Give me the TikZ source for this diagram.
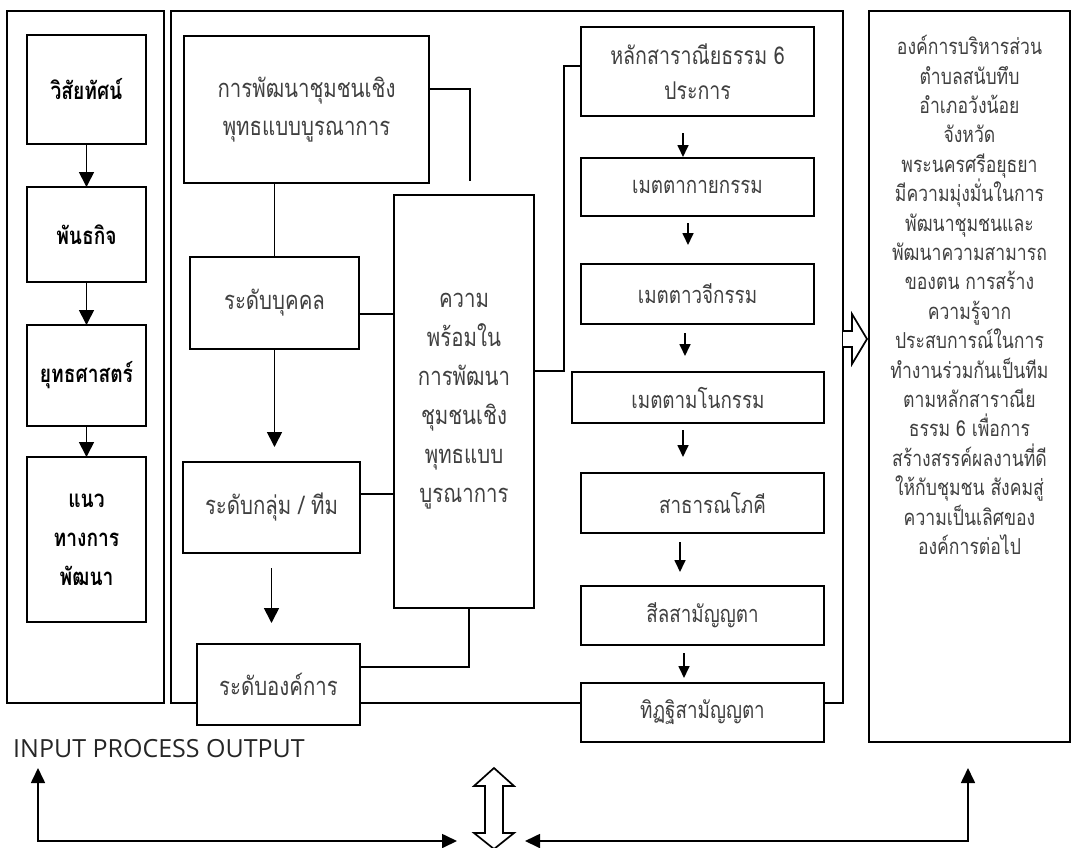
\documentclass[tikz,border=0pt]{standalone}
\usepackage{fontspec}
\newfontfamily\thai[Script=Thai, FakeStretch=0.8]{Loma}
\newfontfamily\latinsans{Open Sans}
\usetikzlibrary{arrows.meta,calc}
\begin{document}
\begin{tikzpicture}[x=1pt,y=-1pt,
  frame/.style={draw, line width=1.7pt, inner sep=0pt, outer sep=0pt},
  box/.style={draw, fill=white, line width=1.7pt, align=center, inner sep=0pt, outer sep=0pt,
    text=black!75, font=\thai\fontsize{25.5}{36}\selectfont},
  cbox/.style={box, font=\thai\fontsize{23.5}{35}\selectfont},
  lbox/.style={box, text=black, font=\thai\bfseries\fontsize{24}{39}\selectfont},
  link/.style={line width=1.7pt},
  arr/.style={line width=1.7pt, -{Triangle[length=15pt,width=15pt]}},
  sarr/.style={line width=1.7pt, -{Triangle[length=12pt,width=11pt]}},
  bothtip/.style={line width=1.7pt, {Triangle[length=15pt,width=14pt]}-{Triangle[length=15pt,width=14pt]}}
]
\useasboundingbox (0,0) rectangle (1077,847);

% panels
\node[frame, minimum width=157, minimum height=692] (inp) at (85.5,357) {};
\node[frame, minimum width=672, minimum height=692] (proc) at (507,357) {};
\node[frame, minimum width=201, minimum height=731] (outp) at (969.5,376.5) {};

% input column
\node[lbox, minimum width=119, minimum height=109] (vis) at (86.5,89.5) {วิสัยทัศน์};
\node[lbox, minimum width=119, minimum height=95] (mis) at (86.5,234.5) {พันธกิจ};
\node[lbox, minimum width=119, minimum height=101] (str) at (86.5,375.5) {ยุทธศาสตร์};
\node[lbox, minimum width=119, minimum height=165] (gui) at (86.5,539.5) {แนว\\ทางการ\\พัฒนา};
\draw[arr] (vis) -- (mis);
\draw[arr] (mis) -- (str);
\draw[arr] (str) -- (gui);

% process, left part
\node[box, minimum width=245, minimum height=147, font=\thai\fontsize{25.5}{38}\selectfont] (integ) at (306.5,109.5) {การพัฒนาชุมชนเชิง\\พุทธแบบบูรณาการ};
\node[box, minimum width=169, minimum height=92] (indiv) at (274.5,303) {ระดับบุคคล};
\node[box, minimum width=177, minimum height=91] (group) at (271.5,507.5) {ระดับกลุ่ม / ทีม};
\node[box, minimum width=163, minimum height=81] (org) at (278.5,684.5) {ระดับองค์การ};
\node[box, minimum width=140, minimum height=413, font=\thai\fontsize{25.5}{39}\selectfont] (ready) at (464,401.5)
  {ความ\\พร้อมใน\\การพัฒนา\\ชุมชนเชิง\\พุทธแบบ\\บูรณาการ};

\coordinate (c1) at (470,181);
\draw[link] ([yshift=20.5pt]integ.east) -| (c1);
\draw[link] (indiv.north) -- (indiv.north |- integ.south);
\path ([yshift=-11pt]indiv.east) coordinate (p1);
\draw[link] (p1) -- (p1 -| ready.west);
\path ([yshift=13.5pt]group.east) coordinate (p2);
\draw[link] (p2) -- (p2 -| ready.west);
\path ([yshift=17.5pt]org.east) coordinate (p3);
\path ([xshift=5pt]ready.south) coordinate (p4);
\draw[link] (p3) -| (p4);
\draw[arr] (indiv.south) -- ++(0,98);
\draw[arr] ($(group.south)+(0,15)$) -- ++(0,55);

% process, right part
\node[cbox, minimum width=233, minimum height=89, font=\thai\fontsize{24.5}{35}\selectfont] (princ) at (697.5,71.5) {หลักสาราณียธรรม 6\\ประการ};
\node[cbox, minimum width=233, minimum height=58] (body) at (697.5,187) {เมตตากายกรรม};
\node[cbox, minimum width=233, minimum height=60] (speech) at (697.5,294) {เมตตาวจีกรรม};
\node[cbox, minimum width=252, minimum height=51] (mind) at (698,397.5) {เมตตามโนกรรม};
\node[cbox, minimum width=243, minimum height=60] (share) at (702.5,503) {\hspace*{20pt}สาธารณโภคี};
\node[cbox, minimum width=243, minimum height=59] (sila) at (702.5,615.5) {สีลสามัญญตา};
\node[cbox, minimum width=243, minimum height=59] (view) at (702.5,712.5) {\raisebox{4pt}{ทิฏฐิสามัญญตา}};

\path ([yshift=30.5pt]ready.east) coordinate (p5);
\path ([yshift=5.5pt]princ.west) coordinate (p6);
\draw[link] (p5) -- ++(30,0) |- (p6);

\draw[sarr] ($(princ.south)+(-14.5,17)$) -- ++(0,24);
\draw[sarr] ($(body.south)+(-9.5,7)$) -- ++(0,22);
\draw[sarr] ($(speech.south)+(-12.5,9)$) -- ++(0,23);
\draw[sarr] ($(mind.south)+(-15,7)$) -- ++(0,27);
\draw[sarr] ($(share.south)+(-22.5,9)$) -- ++(0,30);
\draw[sarr] ($(sila.south)+(-18.5,8)$) -- ++(0,25);

% hollow arrow to output
\draw[link, fill=white] (843,331) -- (852,331) -- (852,314) -- (867,339) -- (852,364) -- (852,347) -- (843,347);

% output text
\node[align=center, text=black!75, font=\thai\fontsize{22}{29.4}\selectfont] (outtxt) at (969.5,295)
 {องค์การบริหารส่วน\\ตำบลสนับทึบ\\อำเภอวังน้อย\\จังหวัด\\พระนครศรีอยุธยา\\มีความมุ่งมั่นในการ\\พัฒนาชุมชนและ\\พัฒนาความสามารถ\\ของตน การสร้าง\\ความรู้จาก\\ประสบการณ์ในการ\\ทำงานร่วมกันเป็นทีม\\ตามหลักสาราณีย\\ธรรม 6 เพื่อการ\\สร้างสรรค์ผลงานที่ดี\\ให้กับชุมชน สังคมสู่\\ความเป็นเลิศของ\\องค์การต่อไป};

% bottom label and arrows
\node[anchor=base west, inner sep=0pt, text=black!85, font=\latinsans\fontsize{25}{30}\selectfont] (iolabel) at (13,757) {INPUT PROCESS OUTPUT};
\coordinate (lu) at (38,768);
\coordinate (lr) at (457,841);
\coordinate (ru) at (968,768);
\coordinate (rl) at (525,841);
\draw[bothtip] (lu) |- (lr);
\draw[bothtip] (ru) |- (rl);
\draw[link, fill=white] (494,768) -- (514,786) -- (503,786) -- (503,833) -- (514,833) -- (494,849)
  -- (474,833) -- (485,833) -- (485,786) -- (474,786) -- cycle;
\end{tikzpicture}
\end{document}
